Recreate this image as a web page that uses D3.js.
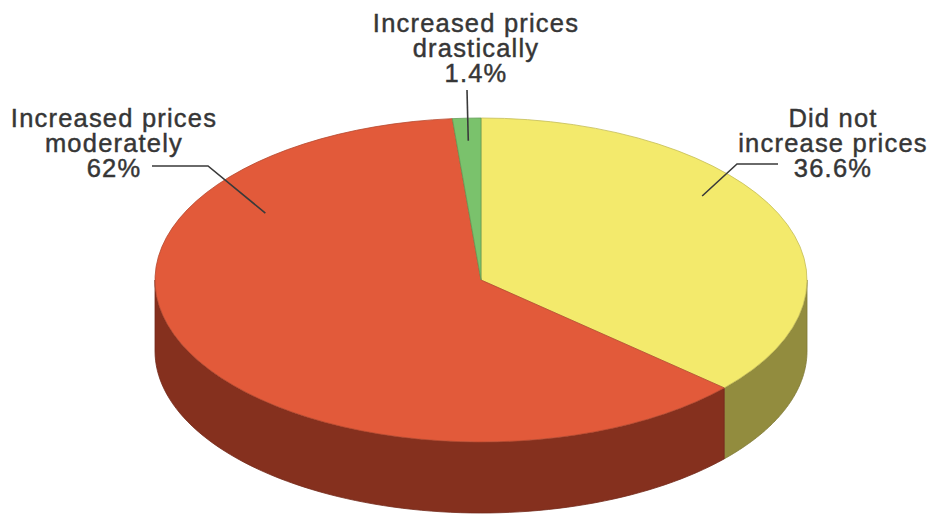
<!DOCTYPE html>
<html>
<head>
<meta charset="utf-8">
<script src="https://cdn.jsdelivr.net/npm/d3@7"></script>
<style>
  html, body { margin: 0; padding: 0; background: #ffffff; }
  svg { display: block; }
  text { font-family: "Liberation Sans", Arial, Helvetica, sans-serif; }
</style>
</head>
<body>
<svg id="chart" width="929" height="519"></svg>
<script>
// ---- data ----
const categories = ["Did not increase prices", "Increased prices moderately", "Increased prices drastically"];
const values = [36.6, 62, 1.4];
const labelLines = [
  ["Did not", "increase prices", "36.6%"],
  ["Increased prices", "moderately", "62%"],
  ["Increased prices", "drastically", "1.4%"]
];
const topColors = ["#f3ea6c", "#e25a3a", "#7ac26c"];
const sideColors = ["#928c3e", "#85301e", "#4f8a45"];

// ---- layout ----
const W = 929, H = 519;
const cx = 481, cy = 280, rx = 326, ry = 162, depth = 71;
// label layout: text centre, first baseline, leader polyline (anchor given as angle(deg)/radius fraction on the slice)
const labelLayout = [
  { x: 833, y: 127, lineStart: [778, 164], elbow: [737, 164], anchorDeg: 52.6, anchorR: 0.854 },
  { x: 114, y: 127, lineStart: [152, 166], elbow: [208, 166], anchorDeg: 302, anchorR: 0.78 },
  { x: 476, y: 32,  lineStart: [467, 90],  elbow: [467, 90],  anchorDeg: 357.4, anchorR: 0.86 }
];

const svg = d3.select("#chart");
const pie = d3.pie().sort(null).value(d => d);
const arcsData = pie(values);

const ex = a => cx + rx * Math.sin(a);
const ey = a => cy - ry * Math.cos(a);

// ---- side walls (front half only) ----
function sidePath(a0, a1) {
  const lo = Math.max(a0, Math.PI / 2), hi = Math.min(a1, 3 * Math.PI / 2);
  if (lo >= hi) return null;
  const n = 80;
  const p = d3.path();
  for (let i = 0; i <= n; i++) {
    const a = lo + (hi - lo) * i / n;
    if (i === 0) p.moveTo(ex(a), ey(a)); else p.lineTo(ex(a), ey(a));
  }
  for (let i = n; i >= 0; i--) {
    const a = lo + (hi - lo) * i / n;
    p.lineTo(ex(a), ey(a) + depth);
  }
  p.closePath();
  return p.toString();
}

const sides = svg.append("g").attr("class", "sides");
arcsData.forEach((d, i) => {
  const path = sidePath(d.startAngle, d.endAngle);
  if (path) {
    sides.append("path")
      .attr("d", path)
      .attr("fill", sideColors[i])
      .attr("stroke", d3.color(sideColors[i]).darker(0.4))
      .attr("stroke-width", 0.8)
      .attr("stroke-linejoin", "round");
  }
});

// ---- top face ----
const arc = d3.arc().innerRadius(0).outerRadius(rx);
const topG = svg.append("g")
  .attr("transform", `translate(${cx},${cy}) scale(1,${ry / rx})`);
topG.selectAll("path")
  .data(arcsData)
  .join("path")
  .attr("d", arc)
  .attr("fill", (d, i) => topColors[i])
  .attr("stroke", (d, i) => d3.color(topColors[i]).darker(0.6))
  .attr("stroke-width", 0.8)
  .attr("vector-effect", "non-scaling-stroke");

// ---- labels & leaders ----
const lab = svg.append("g").attr("class", "labels");
labelLayout.forEach((L, i) => {
  const a = L.anchorDeg * Math.PI / 180;
  const ax = cx + rx * L.anchorR * Math.sin(a);
  const ay = cy - ry * L.anchorR * Math.cos(a);
  lab.append("path")
    .attr("d", d3.line()([L.lineStart, L.elbow, [ax, ay]]))
    .attr("fill", "none")
    .attr("stroke", "#3a3a3a")
    .attr("stroke-width", 1.6);
  const t = lab.append("text")
    .attr("text-anchor", "middle")
    .attr("fill", "#363636")
    .attr("stroke", "#363636")
    .attr("stroke-width", 0.45)
    .attr("font-size", 25.5)
    .attr("letter-spacing", 1.2);
  labelLines[i].forEach((s, k) => {
    t.append("tspan").attr("x", L.x).attr("y", L.y + k * 25).text(s);
  });
});
</script>
</body>
</html>
